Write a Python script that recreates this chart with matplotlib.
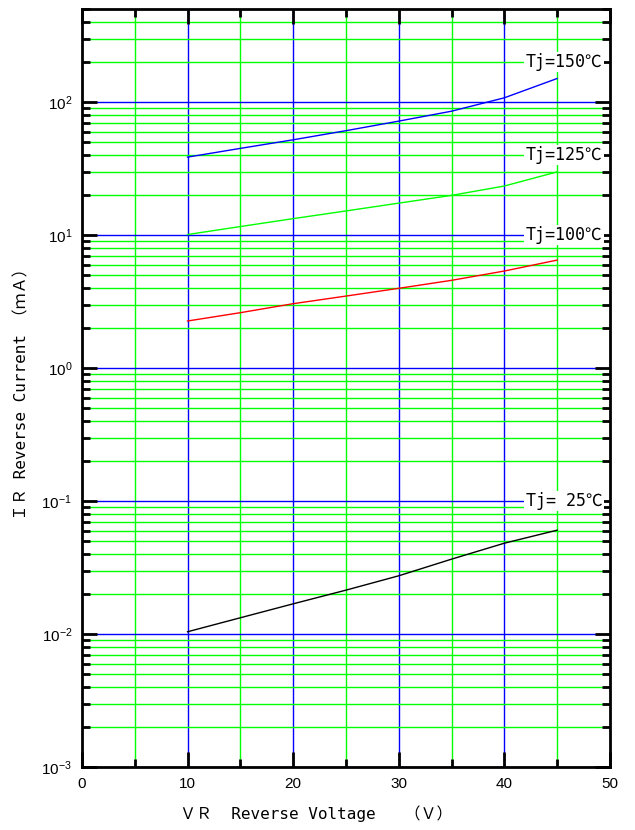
import numpy as np
import matplotlib
matplotlib.use('Agg')
import matplotlib.pyplot as plt
from matplotlib.ticker import FixedLocator, LogLocator, NullFormatter

plt.rcParams['font.family'] = ['Noto Sans CJK JP', 'DejaVu Sans']
MONO = ['DejaVu Sans Mono', 'Noto Sans CJK JP']

# data (VR in V, IR in mA)
vr = [10, 15, 20, 25, 30, 35, 40, 45]
ir_150 = [38.6, 44.9, 52.1, 61.0, 72.0, 85.5, 107.8, 150.6]
ir_125 = [10.1, 11.6, 13.3, 15.2, 17.4, 19.9, 23.4, 29.9]
ir_100 = [2.26, 2.61, 3.05, 3.48, 3.98, 4.57, 5.37, 6.49]
ir_25 = [0.0104, 0.01325, 0.01687, 0.02138, 0.02741, 0.03657, 0.0482, 0.0604]

labels = ['Tj=150℃', 'Tj=125℃', 'Tj=100℃', 'Tj= 25℃']
label_y = [200, 40, 10, 0.1]
colors = ['#0000ff', '#00ff00', '#ff0000', '#000000']

fig = plt.figure(figsize=(6.35, 8.3), dpi=100)
ax = fig.add_axes([0.129, 0.0759, 0.8315, 0.913])
ax.set_yscale('log')
ax.set_xlim(0, 50)
ax.set_ylim(1e-3, 500)

# grid: green minors, blue majors
for x in [5, 15, 25, 35, 45]:
    ax.axvline(x, color='#00ff00', lw=1, zorder=1)
for x in [10, 20, 30, 40]:
    ax.axvline(x, color='#0000ff', lw=1, zorder=1)
for d in [1e-3, 1e-2, 1e-1, 1e0, 1e1, 1e2]:
    for m in range(2, 10):
        if d * m < 500:
            ax.axhline(d * m, color='#00ff00', lw=1, zorder=1)
    ax.axhline(d, color='#0000ff', lw=1, zorder=1)

for ys, c in zip([ir_150, ir_125, ir_100, ir_25], colors):
    ax.plot(vr, ys, color=c, lw=1, zorder=3)

for t, y in zip(labels, label_y):
    ax.text(45.65, y, t, ha='center', va='center', fontsize=12, family=MONO, zorder=4,
            bbox=dict(facecolor='white', edgecolor='none', pad=1.0))

ax.xaxis.set_major_locator(FixedLocator([0, 10, 20, 30, 40, 50]))
ax.xaxis.set_minor_locator(FixedLocator([5, 15, 25, 35, 45]))
ax.yaxis.set_major_locator(LogLocator(base=10, numticks=10))
ax.yaxis.set_minor_locator(LogLocator(base=10, subs=np.arange(2, 10), numticks=20))
ax.yaxis.set_minor_formatter(NullFormatter())

ax.tick_params(which='both', direction='in', top=True, right=True, width=2, color='black')
ax.tick_params(which='major', length=11, labelsize=11, pad=7)
ax.tick_params(which='minor', length=6)
for lab in ax.get_xticklabels() + ax.get_yticklabels():
    lab.set_family(['Liberation Sans', 'DejaVu Sans'])
for s in ax.spines.values():
    s.set_linewidth(2)
    s.set_zorder(5)

fig.text(0.498, 0.02, 'ＶＲ  Reverse Voltage   （Ｖ）', ha='center', va='center',
         fontsize=11.5, family=MONO)
fig.text(0.035, 0.53, 'ＩＲ Reverse Current （ｍＡ）', ha='center', va='center',
         rotation=90, fontsize=11.5, family=MONO)

fig.savefig('out.png', dpi=100)
